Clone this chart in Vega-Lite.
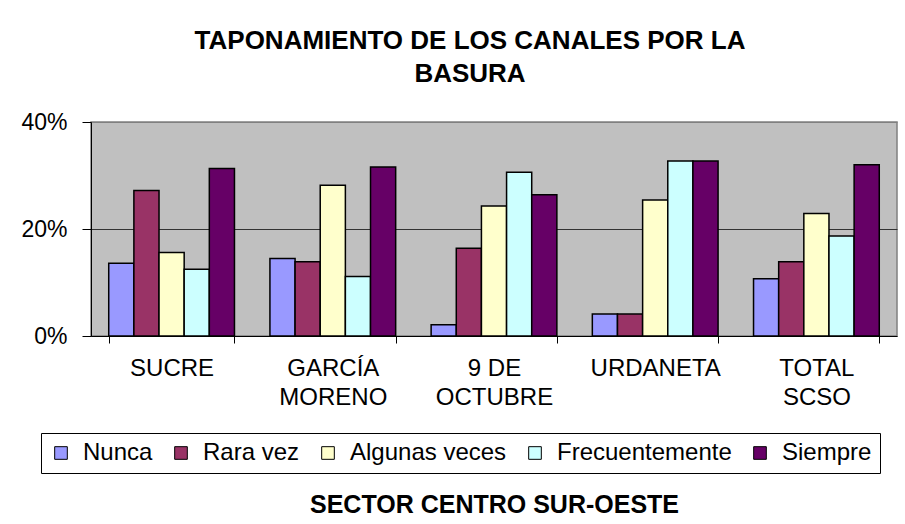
{
  "$schema": "https://vega.github.io/schema/vega-lite/v6.json",
  "width": 806,
  "height": 214,
  "autosize": {"type": "none"},
  "padding": {"left": 91, "top": 122, "right": 8, "bottom": 188},
  "background": "white",
  "config": {
    "font": "Liberation Sans",
    "view": {"fill": "#C0C0C0", "stroke": "#808080", "strokeWidth": 1.5}
  },
  "title": {
    "text": ["TAPONAMIENTO DE LOS CANALES POR LA", "BASURA"],
    "font": "Liberation Sans",
    "fontSize": 26,
    "fontWeight": "bold",
    "color": "black",
    "lineHeight": 33,
    "anchor": "middle",
    "frame": "group",
    "dx": -24,
    "offset": 24
  },
  "data": {
    "values": [
      {"sector": "SUCRE", "freq": "Nunca", "value": 0.136},
      {"sector": "SUCRE", "freq": "Rara vez", "value": 0.272},
      {"sector": "SUCRE", "freq": "Algunas veces", "value": 0.156},
      {"sector": "SUCRE", "freq": "Frecuentemente", "value": 0.125},
      {"sector": "SUCRE", "freq": "Siempre", "value": 0.313},
      {"sector": "GARCÍA MORENO", "freq": "Nunca", "value": 0.145},
      {"sector": "GARCÍA MORENO", "freq": "Rara vez", "value": 0.139},
      {"sector": "GARCÍA MORENO", "freq": "Algunas veces", "value": 0.282},
      {"sector": "GARCÍA MORENO", "freq": "Frecuentemente", "value": 0.111},
      {"sector": "GARCÍA MORENO", "freq": "Siempre", "value": 0.316},
      {"sector": "9 DE OCTUBRE", "freq": "Nunca", "value": 0.021},
      {"sector": "9 DE OCTUBRE", "freq": "Rara vez", "value": 0.164},
      {"sector": "9 DE OCTUBRE", "freq": "Algunas veces", "value": 0.243},
      {"sector": "9 DE OCTUBRE", "freq": "Frecuentemente", "value": 0.306},
      {"sector": "9 DE OCTUBRE", "freq": "Siempre", "value": 0.264},
      {"sector": "URDANETA", "freq": "Nunca", "value": 0.041},
      {"sector": "URDANETA", "freq": "Rara vez", "value": 0.041},
      {"sector": "URDANETA", "freq": "Algunas veces", "value": 0.254},
      {"sector": "URDANETA", "freq": "Frecuentemente", "value": 0.327},
      {"sector": "URDANETA", "freq": "Siempre", "value": 0.327},
      {"sector": "TOTAL SCSO", "freq": "Nunca", "value": 0.107},
      {"sector": "TOTAL SCSO", "freq": "Rara vez", "value": 0.139},
      {"sector": "TOTAL SCSO", "freq": "Algunas veces", "value": 0.229},
      {"sector": "TOTAL SCSO", "freq": "Frecuentemente", "value": 0.187},
      {"sector": "TOTAL SCSO", "freq": "Siempre", "value": 0.320}
    ]
  },
  "mark": {"type": "bar", "stroke": "black", "strokeWidth": 1.5},
  "encoding": {
    "x": {
      "field": "sector",
      "type": "nominal",
      "sort": ["SUCRE", "GARCÍA MORENO", "9 DE OCTUBRE", "URDANETA", "TOTAL SCSO"],
      "scale": {"paddingInner": 0.22, "paddingOuter": 0.11},
      "axis": {
        "title": "SECTOR CENTRO SUR-OESTE",
        "titleFont": "Liberation Sans",
        "titleFontSize": 25,
        "titleFontWeight": "bold",
        "titleColor": "black",
        "titlePadding": 83,
        "labelAngle": 0,
        "labelFontSize": 24,
        "labelColor": "black",
        "labelPadding": 13,
        "labelLineHeight": 29,
        "labelExpr": "datum.label == '9 DE OCTUBRE' ? ['9 DE', 'OCTUBRE'] : split(datum.label, ' ')",
        "tickBand": "extent",
        "tickSize": 7,
        "tickColor": "black",
        "domainColor": "black",
        "domainWidth": 1
      }
    },
    "xOffset": {
      "field": "freq",
      "type": "nominal",
      "sort": ["Nunca", "Rara vez", "Algunas veces", "Frecuentemente", "Siempre"],
      "scale": {"paddingInner": 0, "paddingOuter": 0}
    },
    "y": {
      "field": "value",
      "type": "quantitative",
      "scale": {"domain": [0, 0.4]},
      "axis": {
        "title": null,
        "values": [0, 0.2, 0.4],
        "format": ".0%",
        "labelFontSize": 23,
        "labelColor": "black",
        "labelPadding": 15,
        "tickSize": 9,
        "tickColor": "black",
        "domainColor": "black",
        "grid": true,
        "gridColor": {"condition": {"test": "datum.value == 0.2", "value": "#333333"}, "value": "#808080"},
        "gridWidth": 1
      }
    },
    "color": {
      "field": "freq",
      "type": "nominal",
      "scale": {
        "domain": ["Nunca", "Rara vez", "Algunas veces", "Frecuentemente", "Siempre"],
        "range": ["#9999FF", "#993366", "#FFFFCC", "#CCFFFF", "#660066"]
      },
      "legend": {
        "title": null,
        "orient": "none",
        "legendX": -50,
        "legendY": 311,
        "direction": "horizontal",
        "columns": 5,
        "symbolType": "square",
        "symbolSize": 160,
        "symbolStrokeColor": "black",
        "symbolStrokeWidth": 1,
        "labelFontSize": 24,
        "labelLimit": 400,
        "labelColor": "black",
        "labelOffset": 10,
        "columnPadding": 16,
        "padding": 8,
        "strokeColor": "black",
        "fillColor": "white",
        "cornerRadius": 0
      }
    }
  }
}
